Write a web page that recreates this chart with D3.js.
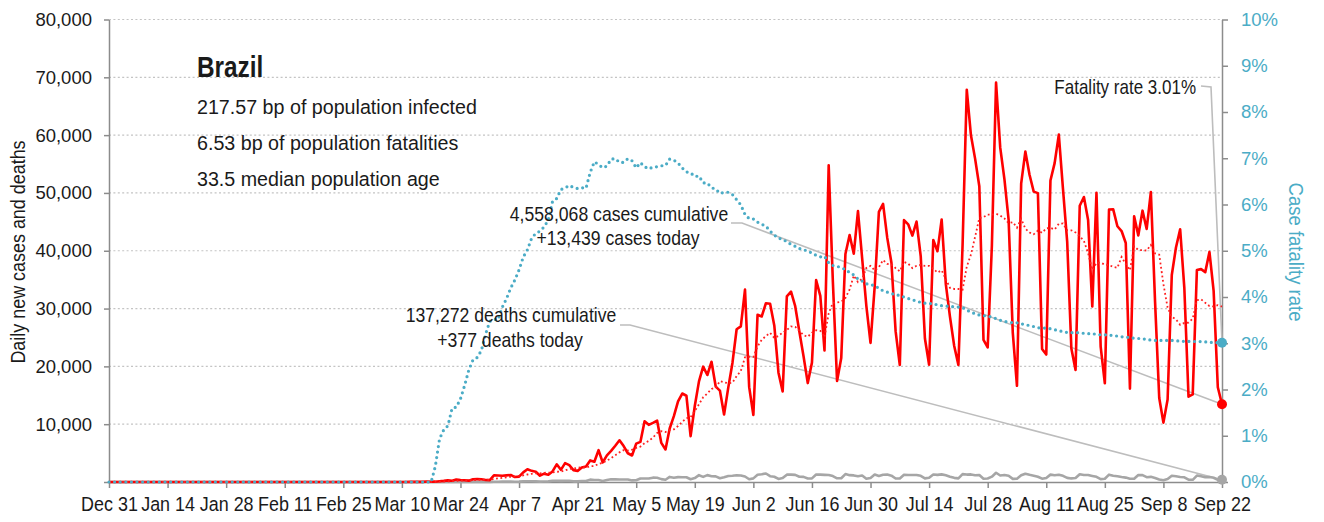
<!DOCTYPE html>
<html>
<head>
<meta charset="utf-8">
<script src="https://cdn.jsdelivr.net/npm/d3@7"></script>
<style>
  body { margin:0; background:#fff; }
  svg { display:block; font-family:"Liberation Sans", Arial, sans-serif; }
  .axis path, .axis line { stroke:#8c8c8c; stroke-width:1.5; }
  .axis text { font-size:18.5px; fill:#1a1a1a; font-family:inherit; }
  .axis.bottom text { font-size:18px; }
  .axis.right text { fill:#4bacc6; }
  .note { fill:#1a1a1a; }
</style>
</head>
<body>
<svg id="chart" width="1324" height="522"></svg>
<script>
// one value per day, starting Dec 31 (ECDC reporting dates)
var startDate = "2019-12-31";
var endDate = "2020-09-22";

var tickDates = ["2019-12-31","2020-01-14","2020-01-28","2020-02-11","2020-02-25","2020-03-10",
  "2020-03-24","2020-04-07","2020-04-21","2020-05-05","2020-05-19","2020-06-02","2020-06-16",
  "2020-06-30","2020-07-14","2020-07-28","2020-08-11","2020-08-25","2020-09-08","2020-09-22"];
var caseTicks = [0,10000,20000,30000,40000,50000,60000,70000,80000];
var rateTicks = [0,1,2,3,4,5,6,7,8,9,10];

var newCases = [
  0,0,0,0,0,0,0,0,0,0,0,0,0,0,
  0,0,0,0,0,0,0,0,0,0,0,0,0,0,
  0,0,0,0,0,0,0,0,0,0,0,0,0,0,
  0,0,0,0,0,0,0,0,0,0,0,0,0,0,
  0,0,1,0,0,1,0,0,0,1,5,5,6,6,
  0,9,18,25,21,23,79,34,57,137,193,283,224,418,
  345,310,232,482,502,487,352,323,1138,1119,1074,1146,1222,852,
  926,1661,2210,1930,1781,1089,1442,1261,1832,3058,2105,3257,2917,2055,
  1927,2498,2678,3735,3503,5514,3379,4613,5385,6276,7218,6209,4970,4588,
  6633,6935,10503,9888,10222,10611,6760,5632,9258,11385,13944,15305,14919,7938,
  13140,17408,19951,18508,20803,16508,15813,11687,16324,20599,26417,26928,33274,16409,
  11598,28936,28633,30925,30830,27075,18912,15654,32091,32913,30412,25982,21704,17110,
  20647,34918,32188,22765,54771,34666,17459,21432,39436,42725,39483,46860,38693,30476,
  24052,33846,46712,48105,42223,37923,26051,20229,45305,44571,42619,45048,39023,24831,
  20286,41857,39924,45403,34177,28532,23529,20257,41008,67860,59961,55891,51147,24578,
  23284,40816,69074,57837,52383,45392,25800,16641,51603,57152,53139,50230,49970,23010,
  22048,52160,55155,60091,50644,41576,23101,19373,47784,49298,45323,30355,50032,23421,
  17078,47134,47161,44235,43412,41350,16158,45961,42659,46934,43773,50163,31199,14521,
  10273,14279,35816,40557,43718,33523,14768,15155,36653,36820,36303,39797,33057,16389,
  13439
];

var newDeaths = [
  0,0,0,0,0,0,0,0,0,0,0,0,0,0,
  0,0,0,0,0,0,0,0,0,0,0,0,0,0,
  0,0,0,0,0,0,0,0,0,0,0,0,0,0,
  0,0,0,0,0,0,0,0,0,0,0,0,0,0,
  0,0,0,0,0,0,0,0,0,0,0,0,0,0,
  0,0,0,0,0,0,0,0,1,3,3,4,7,7,
  9,12,13,18,15,19,25,23,42,39,59,60,72,55,
  67,114,133,141,115,68,99,105,204,204,188,217,206,115,
  113,166,165,407,357,346,189,338,474,449,435,428,421,275,
  296,600,615,610,751,730,496,396,881,749,844,824,816,485,
  674,1179,888,1188,1001,965,653,807,1039,1086,1156,1124,956,480,
  623,1262,1349,1473,1005,904,525,679,1272,1274,1239,909,892,612,
  627,1282,1269,1238,1206,1022,641,654,1374,1185,1141,990,1109,552,
  692,1280,1038,1252,1290,1091,602,620,1254,1223,1220,1214,1071,631,
  733,1300,1233,1322,1163,921,716,632,1367,1284,1311,1156,1211,555,
  614,921,1595,1129,1212,1088,541,561,1154,1437,1237,1079,905,572,
  703,1274,1175,1262,1060,709,620,684,1352,1212,1204,1054,892,494,
  565,1271,1085,984,855,758,566,553,1215,1184,834,888,701,447,
  310,504,1075,983,874,814,415,381,1113,987,829,858,739,363,
  377
];

var infoLines = ["217.57 bp of population infected", "6.53 bp of population fatalities", "33.5 median population age"];

var parse = d3.utcParse("%Y-%m-%d");
var t0 = parse(startDate);

var svg = d3.select("#chart");

var x = d3.scaleUtc().domain([t0, parse(endDate)]).range([109, 1222]);
var yL = d3.scaleLinear().domain([0, 80000]).range([482, 19.5]);
var yR = d3.scaleLinear().domain([0, 10]).range([482, 19.5]);

// series built from the daily arrays
var cumC = Array.from(d3.cumsum(newCases));
var cumD = Array.from(d3.cumsum(newDeaths));
var rows = newCases.map(function(c, i) {
  return {
    date: d3.utcDay.offset(t0, i),
    cases: c,
    deaths: newDeaths[i],
    avg: d3.mean(newCases.slice(Math.max(0, i - 6), i + 1)),
    cfr: cumC[i] > 0 ? cumD[i] / cumC[i] * 100 : 0
  };
});
var last = rows[rows.length - 1];

// narrow-looking text: a larger font squeezed horizontally about its anchor
function condText(px, py, str, size, sx, anchor) {
  return svg.append("text").attr("class", "note")
    .attr("transform", "translate(" + px + "," + py + ") scale(" + sx + ",1)")
    .attr("text-anchor", anchor || "start")
    .style("font-size", size + "px")
    .text(str);
}

// gridlines
svg.append("g").selectAll("line")
  .data(caseTicks.filter(function(d){ return d > 0; }))
  .enter().append("line")
  .attr("x1", 109).attr("x2", 1222)
  .attr("y1", function(d){ return yL(d); })
  .attr("y2", function(d){ return yL(d); })
  .attr("stroke", "#c4c4c4").attr("stroke-width", 1.2)
  .attr("stroke-dasharray", "2 2.4");

// axes
svg.append("g").attr("class", "axis left")
  .attr("transform", "translate(109,0)")
  .call(d3.axisLeft(yL).tickValues(caseTicks).tickSize(5).tickSizeOuter(0).tickPadding(12)
    .tickFormat(function(d){ return d === 0 ? "" : d3.format(",")(d); }));

svg.append("g").attr("class", "axis right")
  .attr("transform", "translate(1222,0)")
  .call(d3.axisRight(yR).tickValues(rateTicks).tickSize(6).tickSizeOuter(0).tickPadding(13)
    .tickFormat(function(d){ return d + "%"; }));

svg.append("g").attr("class", "axis bottom")
  .attr("transform", "translate(0,482)")
  .call(d3.axisBottom(x).tickValues(tickDates.map(parse)).tickSize(6).tickSizeOuter(0).tickPadding(9)
    .tickFormat(d3.utcFormat("%b %-d")));
svg.selectAll(".axis.bottom text").attr("transform", "scale(0.92,1)").style("font-size", "19.5px");

// axis titles
svg.append("text")
  .attr("transform", "translate(25,252) rotate(-90) scale(0.92,1)")
  .attr("text-anchor", "middle")
  .style("font-size", "19.5px").attr("fill", "#1a1a1a")
  .text("Daily new cases and deaths");

svg.append("text")
  .attr("transform", "translate(1289,252) rotate(90) scale(0.95,1)")
  .attr("text-anchor", "middle")
  .style("font-size", "19.5px").attr("fill", "#4bacc6")
  .text("Case fatality rate");

// leader lines from the notes to the last points
var leader = d3.line().x(function(d){ return d[0]; }).y(function(d){ return d[1]; });
var lx = x(last.date);
[
  [[731, 223], [742, 223], [lx, yL(last.cases)]],
  [[620, 325], [630, 325], [lx, yL(last.deaths)]],
  [[1201, 86], [1211, 87], [lx, yR(last.cfr)]]
].forEach(function(pts) {
  svg.append("path").attr("d", leader(pts))
    .attr("fill", "none").attr("stroke", "#bdbdbd").attr("stroke-width", 1.6);
});

// data lines
var lineDeaths = d3.line().x(function(d){ return x(d.date); }).y(function(d){ return yL(d.deaths); });
var lineCases = d3.line().x(function(d){ return x(d.date); }).y(function(d){ return yL(d.cases); });
var lineAvg = d3.line().x(function(d){ return x(d.date); }).y(function(d){ return yL(d.avg); });
var lineCfr = d3.line().x(function(d){ return x(d.date); }).y(function(d){ return yR(d.cfr); });

svg.append("path").datum(rows).attr("d", lineDeaths)
  .attr("fill", "none").attr("stroke", "#a6a6a6").attr("stroke-width", 2.6)
  .attr("stroke-linejoin", "round");

svg.append("path").datum(rows).attr("d", lineCases)
  .attr("fill", "none").attr("stroke", "#ff0000").attr("stroke-width", 2.6)
  .attr("stroke-linejoin", "round");

svg.append("path").datum(rows).attr("d", lineAvg)
  .attr("fill", "none").attr("stroke", "#ff2020").attr("stroke-width", 1.8)
  .attr("stroke-dasharray", "1.8 2.6");

svg.append("path").datum(rows).attr("d", lineCfr)
  .attr("fill", "none").attr("stroke", "#4bacc6").attr("stroke-width", 3.2)
  .attr("stroke-linecap", "round").attr("stroke-dasharray", "0 5.6");

// end markers
svg.append("circle").attr("cx", lx).attr("cy", yL(last.deaths)).attr("r", 5).attr("fill", "#a6a6a6");
svg.append("circle").attr("cx", lx).attr("cy", yR(last.cfr)).attr("r", 5).attr("fill", "#4bacc6");
svg.append("circle").attr("cx", lx).attr("cy", yL(last.cases)).attr("r", 5).attr("fill", "#ff0000");

// country block
condText(197, 77, "Brazil", 29, 0.84).style("font-weight", "bold").attr("fill", "#111");
infoLines.forEach(function(d, i) {
  condText(197, 114 + i * 36, d, 20.5, 0.96);
});

// annotations
var fmt = d3.format(",");
condText(619, 221, fmt(cumC[cumC.length - 1]) + " cases cumulative", 20.5, 0.86, "middle");
condText(618, 245, "+" + fmt(last.cases) + " cases today", 20.5, 0.86, "middle");
condText(511, 322, fmt(cumD[cumD.length - 1]) + " deaths cumulative", 20.5, 0.86, "middle");
condText(510, 347, "+" + fmt(last.deaths) + " deaths today", 20.5, 0.86, "middle");
condText(1196, 94, "Fatality rate " + last.cfr.toFixed(2) + "%", 20, 0.85, "end");
</script>
</body>
</html>
